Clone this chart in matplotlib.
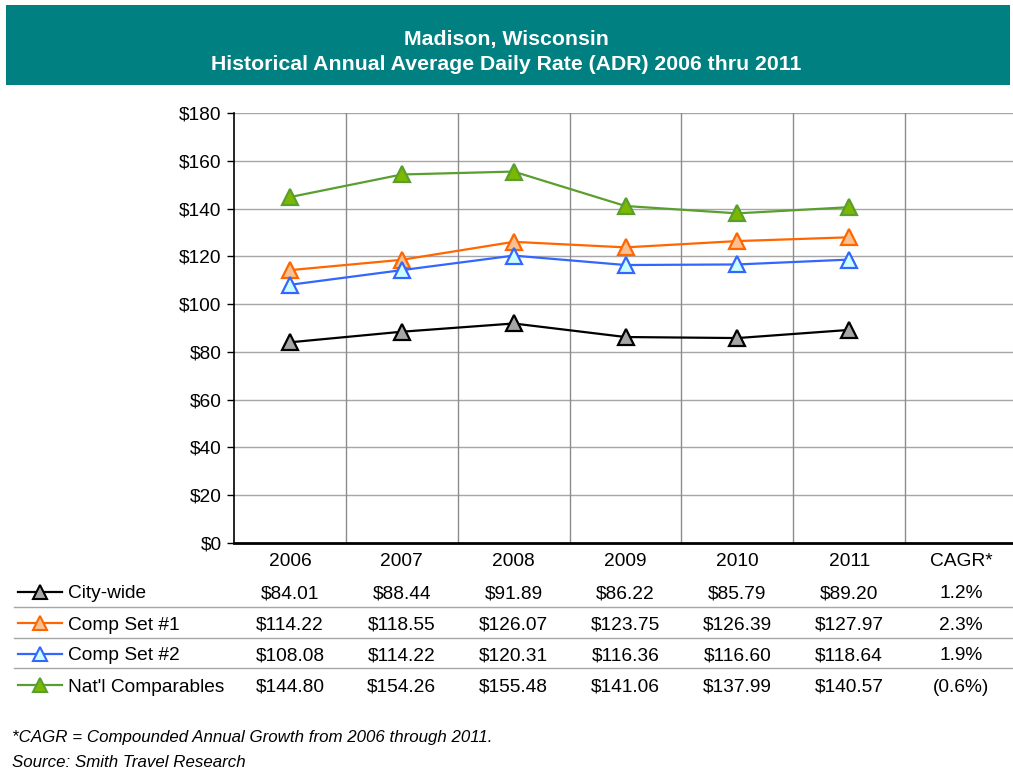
import matplotlib
matplotlib.use("Agg")
import matplotlib.pyplot as plt
from matplotlib.patches import Rectangle
from matplotlib.lines import Line2D
from matplotlib.transforms import blended_transform_factory

plt.rcParams['font.family'] = ['Liberation Sans', 'DejaVu Sans']

# Table / chart data
years = ['2006', '2007', '2008', '2009', '2010', '2011']
columns = years + ['CAGR*']
series_names = ['City-wide', 'Comp Set #1', 'Comp Set #2', "Nat'l Comparables"]
city_wide = [84.01, 88.44, 91.89, 86.22, 85.79, 89.20]
comp_set_1 = [114.22, 118.55, 126.07, 123.75, 126.39, 127.97]
comp_set_2 = [108.08, 114.22, 120.31, 116.36, 116.60, 118.64]
natl_comp = [144.80, 154.26, 155.48, 141.06, 137.99, 140.57]
cagr = ['1.2%', '2.3%', '1.9%', '(0.6%)']
y_ticks = [0, 20, 40, 60, 80, 100, 120, 140, 160, 180]

all_values = [city_wide, comp_set_1, comp_set_2, natl_comp]
# (line colour, marker face colour)
styles = [('#000000', '#A6A6A6'),
          ('#FF6600', '#FBC08F'),
          ('#3366FF', '#CCFFFF'),
          ('#5A9E2F', '#7DB800')]

W, H = 1013, 781
FS = 13.8
fig = plt.figure(figsize=(W / 100, H / 100), dpi=100)

def fx(px):
    return px / W

def fy(py):
    return 1 - py / H

# header banner
fig.add_artist(Rectangle((fx(6), fy(85)), fx(1004), 80 / H,
                         transform=fig.transFigure, color='#008080', lw=0))
fig.text(0.5, fy(38), 'Madison, Wisconsin', color='white', fontsize=15.3,
         fontweight='bold', ha='center', va='center_baseline')
fig.text(0.5, fy(63), 'Historical Annual Average Daily Rate (ADR) 2006 thru 2011',
         color='white', fontsize=15.3, fontweight='bold', ha='center',
         va='center_baseline')

# plot area runs past the right edge of the page
ax = fig.add_axes([fx(234), fy(543), (1017 - 234) / W, (543 - 113) / H])
ax.set_xlim(-0.5, len(columns) - 0.5)
ax.set_ylim(0, 180)

for y in y_ticks[1:]:
    ax.axhline(y, color='#A6A6A6', lw=1, zorder=0)
for i in range(len(columns)):
    ax.axvline(i + 0.5, color='#8C8C8C', lw=1, zorder=0)

xs = list(range(len(years)))
for vals, (lc, fc) in zip(all_values, styles):
    ax.plot(xs, vals, color=lc, lw=1.6, marker='^', markersize=11,
            markerfacecolor=fc, markeredgecolor=lc, markeredgewidth=1.6,
            zorder=3, clip_on=False)

ax.set_yticks(y_ticks)
ax.set_yticklabels(['$%d' % v for v in y_ticks], fontsize=FS)
ax.set_xticks(range(len(columns)))
ax.set_xticklabels(columns, fontsize=FS)
ax.tick_params(axis='x', length=0, pad=7)
ax.tick_params(axis='y', length=5, width=1, pad=4, color='#000000')
for side in ['top', 'right']:
    ax.spines[side].set_visible(False)
ax.spines['left'].set_linewidth(1.2)
ax.spines['bottom'].set_linewidth(2)

# data table under the chart
row_y = [592, 623, 654, 685]
sep_y = [607, 638, 668]
tr = blended_transform_factory(ax.transData, fig.transFigure)
for r, (name, vals, (lc, fc)) in enumerate(zip(series_names, all_values, styles)):
    yy = fy(row_y[r])
    fig.add_artist(Line2D([fx(18), fx(62)], [yy, yy], transform=fig.transFigure,
                          color=lc, lw=1.6))
    fig.add_artist(Line2D([fx(40)], [yy], transform=fig.transFigure, marker='^',
                          markersize=10, markerfacecolor=fc, markeredgecolor=lc,
                          markeredgewidth=1.5))
    fig.text(fx(68), yy, name, fontsize=FS, ha='left', va='center_baseline')
    for i, v in enumerate(vals):
        ax.text(i, yy, '$%.2f' % v, transform=tr, fontsize=FS,
                ha='center', va='center_baseline', clip_on=False)
    ax.text(len(years), yy, cagr[r], transform=tr, fontsize=FS,
            ha='center', va='center_baseline', clip_on=False)

for y in sep_y:
    fig.add_artist(Line2D([fx(14), 1], [fy(y), fy(y)], transform=fig.transFigure,
                          color='#A6A6A6', lw=1))

fig.text(fx(12), fy(736), '*CAGR = Compounded Annual Growth from 2006 through 2011.',
         fontsize=12.2, style='italic', va='center_baseline')
fig.text(fx(12), fy(761), 'Source: Smith Travel Research',
         fontsize=12.2, style='italic', va='center_baseline')

fig.savefig('out.png', dpi=100)
